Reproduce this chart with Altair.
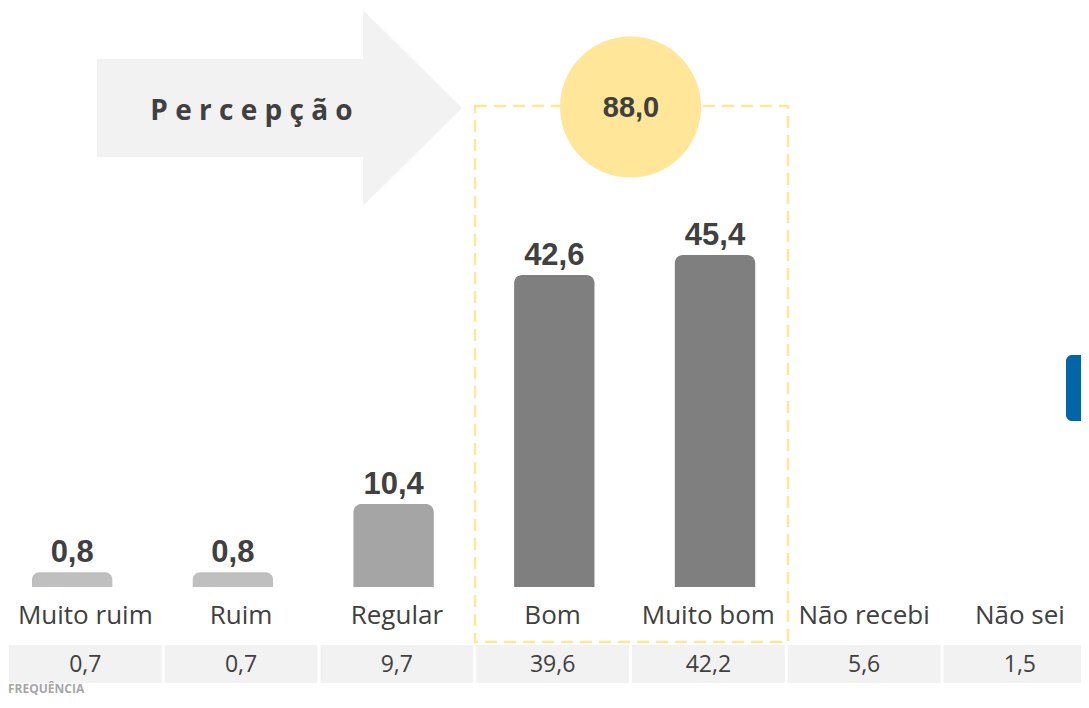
import altair as alt
import pandas as pd

# ---------------- data ----------------
categories = ["Muito ruim", "Ruim", "Regular", "Bom", "Muito bom", "Não recebi", "Não sei"]
percepcao = [0.8, 0.8, 10.4, 42.6, 45.4]          # bars (first five categories)
frequencia = [0.7, 0.7, 9.7, 39.6, 42.2, 5.6, 1.5]  # bottom row
bar_colors = ["#bfbfbf", "#bfbfbf", "#a5a5a5", "#7f7f7f", "#7f7f7f"]
destaque = ["Bom", "Muito bom"]
titulo = "P e r c e p ç ã o"
rodape = "FREQUÊNCIA"


def br(v):
    return f"{v:.1f}".replace(".", ",")


# chart sized so the page (8px margin) does not overflow the 1089x708 window
W, H = 1073, 688
TXT = "#404040"

bars_df = pd.DataFrame({
    "cat": categories[:len(percepcao)],
    "val": percepcao,
    "color": bar_colors,
    "label": [br(v) for v in percepcao],
})
freq_df = pd.DataFrame({
    "cat": categories,
    "freq": frequencia,
    "label": [br(v) for v in frequencia],
})
total = sum(v for c, v in zip(categories, percepcao) if c in destaque)
one = pd.DataFrame({"t": [br(total)], "title": [titulo], "foot": [rodape]})

# ---------------- scales ----------------
bar_x = alt.X("cat:N", sort=categories, axis=None,
              scale=alt.Scale(type="band", domain=categories, range=[24, 1068.6],
                              paddingInner=0.5, paddingOuter=0))
cell_x = alt.X("cat:N", sort=categories, axis=None,
               scale=alt.Scale(type="band", domain=categories, range=[1, 1088.2],
                               paddingInner=0.02, paddingOuter=0))
# value 0 -> y 570, 45.4 -> y 247 (plot coordinates)
y_scale = alt.Scale(domain=[-16.44, 80.11], nice=False, zero=False,
                    range=[687, 0])

# ---------------- decorations ----------------
arrow_path = ("M -1 -0.2685 L 0.4575 -0.2685 L 0.4575 -0.537 L 1 0 "
              "L 0.4575 0.537 L 0.4575 0.2685 L -1 0.2685 Z")
arrow = alt.Chart(one).mark_point(
    shape=arrow_path, filled=True, fill="#f2f2f2", opacity=1, strokeWidth=0
).encode(x=alt.value(271.5), y=alt.value(100), size=alt.value(133225))

arrow_text = alt.Chart(one).mark_text(
    font="Open Sans", fontWeight="bold", fontSize=28, color=TXT,
    align="center", baseline="alphabetic"
).encode(x=alt.value(243.5), y=alt.value(112), text="title:N")

dashed = alt.Chart(one).mark_rect(
    filled=False, stroke="#ffe699", strokeWidth=2.5, strokeDash=[12, 7]
).encode(x=alt.value(467), x2=alt.value(780), y=alt.value(98), y2=alt.value(634))

circle = alt.Chart(one).mark_circle(color="#ffe699", opacity=1).encode(
    x=alt.value(622.5), y=alt.value(99), size=alt.value(19881))

circle_text = alt.Chart(one).mark_text(
    font="Liberation Sans", fontWeight="bold", fontSize=29, color=TXT,
    align="center", baseline="alphabetic"
).encode(x=alt.value(623), y=alt.value(109), text="t:N")

blue = alt.Chart(one).mark_rect(color="#0066aa", cornerRadius=6).encode(
    x=alt.value(1058), x2=alt.value(1100), y=alt.value(347), y2=alt.value(413))

# ---------------- bars ----------------
bars = alt.Chart(bars_df).mark_bar(
    cornerRadiusTopLeft=8, cornerRadiusTopRight=8
).encode(
    x=bar_x,
    y=alt.Y("val:Q", scale=y_scale, axis=None),
    y2=alt.datum(-1.27),
    color=alt.Color("color:N", scale=None),
)

bar_labels = alt.Chart(bars_df).mark_text(
    font="Liberation Sans", fontWeight="bold", fontSize=31, color=TXT,
    align="center", baseline="alphabetic", dy=-10
).encode(
    x=bar_x,
    y=alt.Y("val:Q", scale=y_scale, axis=None),
    text="label:N",
)

# ---------------- category labels + frequency row ----------------
cat_labels = alt.Chart(freq_df).mark_text(
    font="Open Sans", fontSize=26, color=TXT, align="center", baseline="alphabetic"
).encode(x=cell_x, y=alt.value(616), text="cat:N")

cells = alt.Chart(freq_df).mark_bar(color="#f2f2f2").encode(
    x=cell_x, y=alt.value(637), y2=alt.value(675))

cell_text = alt.Chart(freq_df).mark_text(
    font="Open Sans", fontSize=23, color=TXT, align="center", baseline="alphabetic"
).encode(x=cell_x, y=alt.value(664), text="label:N")

foot = alt.Chart(one).mark_text(
    font="Open Sans", fontWeight="bold", fontSize=12, color="#a6a6a6",
    align="left", baseline="alphabetic"
).encode(x=alt.value(0), y=alt.value(684.5), text="foot:N")

chart = alt.layer(
    arrow, arrow_text, dashed, circle, circle_text, blue,
    bars, bar_labels, cells, cell_text, cat_labels, foot
).resolve_scale(x="independent").properties(
    width=W, height=H, padding=0, autosize="none", background="white"
).configure_view(stroke=None)

chart.save("out.html", embed_options={"renderer": "svg", "actions": False})
